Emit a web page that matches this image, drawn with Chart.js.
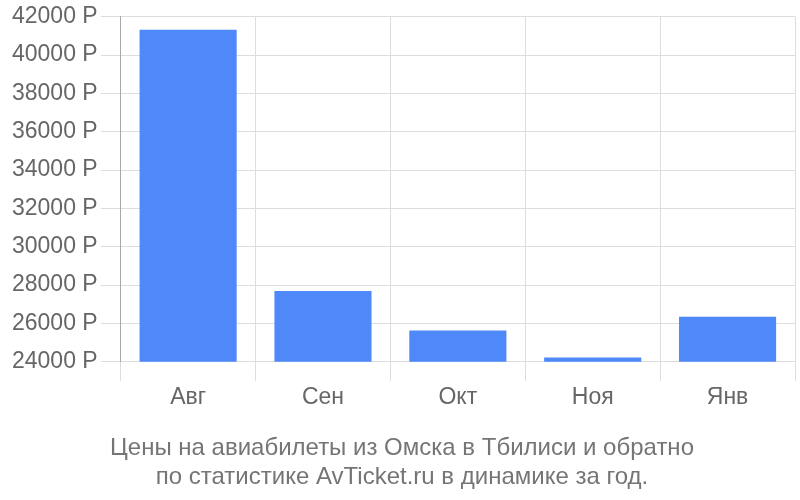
<!DOCTYPE html>
<html><head><meta charset="utf-8">
<script src="https://cdn.jsdelivr.net/npm/chart.js@4/dist/chart.umd.min.js"></script>
<style>html,body{margin:0;padding:0;background:#fff}#w{width:800px;height:500px}</style>
</head><body><div id="w"><canvas id="c"></canvas></div>
<script>
const categories = ["Авг", "Сен", "Окт", "Ноя", "Янв"];
const prices = [41330, 27700, 25630, 24230, 26350];
const yTicks = [24000, 26000, 28000, 30000, 32000, 34000, 36000, 38000, 40000, 42000];
const titleLines = ["Цены на авиабилеты из Омска в Тбилиси и обратно", "по статистике AvTicket.ru в динамике за год."];

new Chart(document.getElementById('c'), {
  type: 'bar',
  data: {
    labels: categories,
    datasets: [{
      data: prices,
      backgroundColor: '#4e88f9',
      borderWidth: 0,
      categoryPercentage: 0.72,
      barPercentage: 1.0
    }]
  },
  options: {
    responsive: true,
    maintainAspectRatio: false,
    animation: false,
    devicePixelRatio: 1,
    layout: { padding: { top: 10, right: 5, left: 9, bottom: 8 } },
    plugins: {
      legend: { display: false },
      tooltip: { enabled: false },
      title: {
        display: true,
        position: 'bottom',
        text: titleLines,
        color: '#757575',
        font: { family: 'Liberation Sans, Arial, sans-serif', size: 24, weight: 'normal', lineHeight: 1.2 },
        padding: { top: 20, bottom: 0 }
      }
    },
    scales: {
      x: {
        grid: { color: '#dddddd', lineWidth: 1, tickLength: 19, drawTicks: true, offset: true },
        border: { display: false },
        ticks: { color: '#666666', font: { family: 'Liberation Sans, Arial, sans-serif', size: 23 }, padding: 3 }
      },
      y: {
        min: 24000,
        max: 42000,
        afterBuildTicks: (axis) => { axis.ticks = yTicks.map(v => ({ value: v })); },
        grid: { color: '#dddddd', lineWidth: 1, tickLength: 20 },
        border: { display: true, color: '#aaaaaa', width: 1 },
        ticks: {
          color: '#666666',
          font: { family: 'Liberation Sans, Arial, sans-serif', size: 23 },
          padding: 3,
          callback: (v) => v + ' Р'
        }
      }
    }
  }
});
</script></body></html>
